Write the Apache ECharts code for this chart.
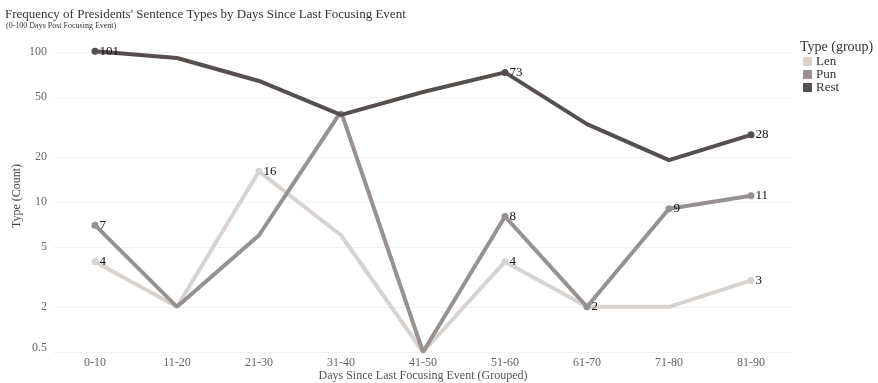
<!DOCTYPE html>
<html>
<head>
<meta charset="utf-8">
<script src="https://cdn.jsdelivr.net/npm/echarts@6/dist/echarts.min.js"></script>
<style>
  html, body { margin: 0; padding: 0; background: #ffffff; }
  #chart { width: 878px; height: 383px; }
</style>
</head>
<body>
<div id="chart"></div>
<script>
// Day-range buckets since the last focusing event
const categories = ['0-10', '11-20', '21-30', '31-40', '41-50', '51-60', '61-70', '71-80', '81-90'];

// Sentence-type counts per bucket (0 = no sentences of that type)
const lenCounts  = [4, 2, 16, 6, 0, 4, 2, 2, 3];
const punCounts  = [7, 2, 6, 40, 0, 8, 2, 9, 11];
const restCounts = [101, 91, 64, 38, 54, 73, 33, 19, 28];

// Points that carry a value label
const lenLabelled  = [0, 5, 8, 2];
const punLabelled  = [0, 5, 6, 7, 8];
const restLabelled = [0, 5, 8];

// Log axis: zero counts sit on the axis floor
const axisFloor = 1;
const axisCeil = 120;
const yTickValues = [1, 2, 5, 10, 20, 50, 100];
const yTickLabels = ['0.5', '2', '5', '10', '20', '50', '100'];

const FONT = '"Liberation Serif", "DejaVu Serif", serif';

function buildData(counts, labelled) {
  return counts.map((c, i) => {
    const shown = labelled.indexOf(i) >= 0;
    return {
      value: Math.max(c, axisFloor),
      symbolSize: shown ? 7 : 0,
      label: { show: shown, formatter: String(c) }
    };
  });
}

function lineSeries(name, color, counts, labelled, z) {
  return {
    name: name,
    type: 'line',
    z: z,
    data: buildData(counts, labelled),
    symbol: 'circle',
    showSymbol: true,
    lineStyle: { color: color, width: 4 },
    itemStyle: { color: color },
    label: {
      position: 'right',
      distance: 1,
      color: '#111',
      fontFamily: FONT,
      fontSize: 13
    },
    emphasis: { disabled: true },
    animation: false
  };
}

const chart = echarts.init(document.getElementById('chart'), null, { renderer: 'canvas' });

chart.setOption({
  backgroundColor: '#ffffff',
  animation: false,
  textStyle: { fontFamily: FONT },
  title: [{
    text: "Frequency of Presidents' Sentence Types by Days Since Last Focusing Event",
    left: 5, top: 8, padding: 0,
    textStyle: { fontFamily: FONT, fontSize: 13, fontWeight: 'normal', color: '#333' }
  }, {
    text: '(0-100 Days Post Focusing Event)',
    left: 6, top: 22, padding: 0,
    textStyle: { fontFamily: FONT, fontSize: 8, fontWeight: 'normal', color: '#333' }
  }, {
    text: 'Type (group)',
    left: 800, top: 40, padding: 0,
    textStyle: { fontFamily: FONT, fontSize: 14, fontWeight: 'normal', color: '#333' }
  }],
  legend: {
    orient: 'vertical',
    left: 803, top: 55,
    padding: 0,
    itemWidth: 9, itemHeight: 9, itemGap: 0,
    icon: 'rect',
    selectedMode: false,
    data: ['Len', 'Pun', 'Rest'],
    textStyle: { fontFamily: FONT, fontSize: 13, color: '#333', padding: [0, 0, 0, -1] }
  },
  grid: { left: 54, right: 86, top: 40, bottom: 31, outerBoundsMode: 'none', containLabel: false },
  xAxis: {
    type: 'category',
    data: categories,
    boundaryGap: true,
    name: 'Days Since Last Focusing Event (Grouped)',
    nameLocation: 'middle',
    nameGap: 18,
    nameMoveOverlap: false,
    nameTextStyle: { fontFamily: FONT, fontSize: 12, color: '#555' },
    axisLine: { show: false },
    axisTick: { show: false },
    axisLabel: { fontFamily: FONT, fontSize: 12, color: '#666', margin: 5 },
    splitLine: { show: false }
  },
  yAxis: {
    type: 'log',
    logBase: 10,
    min: axisFloor,
    max: axisCeil,
    name: 'Type (Count)',
    nameLocation: 'middle',
    nameGap: 31,
    nameMoveOverlap: false,
    nameTextStyle: { fontFamily: FONT, fontSize: 12, color: '#444' },
    axisLine: { show: false },
    axisTick: { show: false, customValues: yTickValues },
    axisLabel: {
      customValues: yTickValues,
      fontFamily: FONT, fontSize: 12, color: '#666', margin: 7,
      formatter: v => {
        const i = yTickValues.findIndex(t => Math.abs(t - v) < 1e-6);
        if (i < 0) return '';
        return i === 0 ? '{floor|' + yTickLabels[i] + '}' : yTickLabels[i];
      },
      rich: {
        floor: { fontFamily: FONT, fontSize: 12, color: '#666', padding: [0, 0, 8, 0] }
      }
    },
    splitLine: { show: true, lineStyle: { color: '#f1f1f1', width: 1 } }
  },
  series: [
    lineSeries('Len', '#d9d3d0', lenCounts, lenLabelled, 2),
    lineSeries('Pun', '#979190', punCounts, punLabelled, 3),
    lineSeries('Rest', '#574f4e', restCounts, restLabelled, 4)
  ]
});
</script>
</body>
</html>
